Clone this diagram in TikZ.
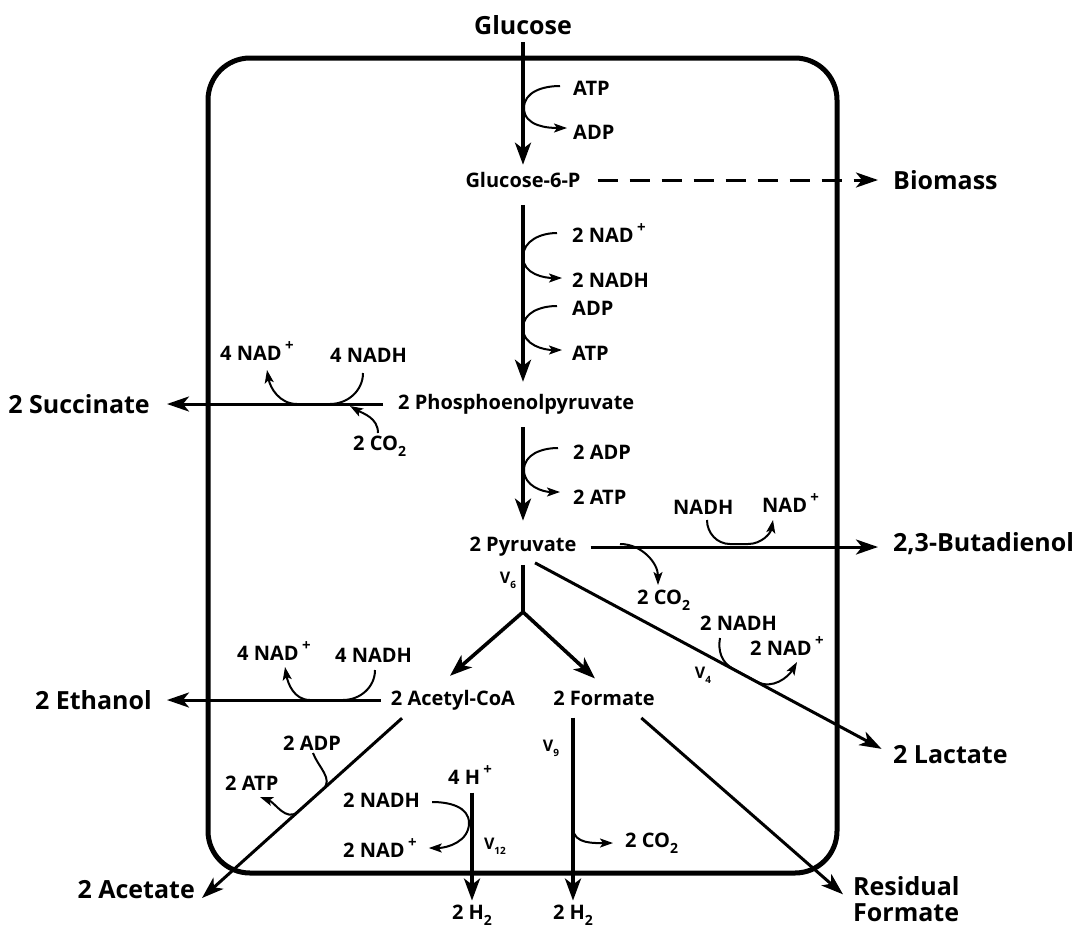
\documentclass[tikz,border=0pt]{standalone}
\usepackage{fontspec}
\setmainfont{Open Sans}
\usetikzlibrary{arrows.meta}
\newcommand\myplus{\,\raisebox{0.5em}{\fontsize{15}{15}\selectfont +}}
\newcommand\mysub[1]{\raisebox{-0.3em}{\fontsize{14}{14}\selectfont #1}}
\begin{document}
\begin{tikzpicture}[x=1pt,y=1pt,
  lbl/.style={font=\fontsize{20}{22}\selectfont\bfseries, inner sep=0pt},
  big/.style={font=\fontsize{25}{26}\selectfont\bfseries, inner sep=0pt},
  vl/.style={font=\fontsize{16}{17}\selectfont\bfseries, inner sep=0pt},
  mainarrow/.style={line width=3.6pt, -{Stealth[length=22pt,width=16pt,inset=6pt]}},
  flux/.style={line width=3pt, -{Stealth[length=22pt,width=15pt,inset=6pt]}},
  sidearrow/.style={line width=2pt, -{Stealth[length=13pt,width=9pt,inset=3pt]}},
  cell/.style={line width=5pt, rounded corners=42pt}]
\useasboundingbox (0,0) rectangle (1074,-930);
\draw[cell] (208,-58) rectangle (837,-873);

% main metabolites
\node[big] (glc) at (523,-25) {Glucose};
\node[lbl] (g6p) at (523,-180) {Glucose-6-P};
\node[big,anchor=west] (bio) at (893,-180) {Biomass};
\node[lbl,anchor=west] (pep) at (398,-404) {2 Phosphoenolpyruvate};
\node[big,anchor=east] (suc) at (150,-404) {2 Succinate};
\node[lbl] (pyr) at (523,-547) {2 Pyruvate};
\node[big,anchor=west] (but) at (893,-544) {2,3-Butadienol};
\node[big,anchor=west] (lac) at (893,-755) {2 Lactate};
\node[lbl] (aca) at (453,-700) {2 Acetyl-CoA};
\node[lbl] (form) at (604,-698) {2 Formate};
\node[big,anchor=east] (eth) at (152,-700) {2 Ethanol};
\node[big,anchor=east] (act) at (195,-890) {2 Acetate};
\node[big,anchor=north west,align=left] (res) at (853,-876) {Residual\\Formate};
\node[lbl,anchor=west] (hp) at (448,-775) {4 H\myplus};
\node[lbl] (h2a) at (472,-915) {2 H\mysub{2}};
\node[lbl] (h2b) at (573,-915) {2 H\mysub{2}};

% cofactors
\node[lbl,anchor=west] (atp1) at (573,-88) {ATP};
\node[lbl,anchor=west] (adp1) at (573,-132) {ADP};
\node[lbl,anchor=west] (nad1) at (572,-233) {2 NAD\myplus};
\node[lbl,anchor=west] (nadh1) at (572,-280) {2 NADH};
\node[lbl,anchor=west] (adp2) at (572,-308) {ADP};
\node[lbl,anchor=west] (atp2) at (572,-353) {ATP};
\node[lbl,anchor=west] (nad4) at (220,-351) {4 NAD\myplus};
\node[lbl,anchor=west] (nadh4) at (330,-355) {4 NADH};
\node[lbl,anchor=west] (co2a) at (353,-446) {2 CO\mysub{2}};
\node[lbl,anchor=west] (adp3) at (573,-452) {2 ADP};
\node[lbl,anchor=west] (atp3) at (573,-497) {2 ATP};
\node[lbl,anchor=west] (nadhb) at (673,-507) {NADH};
\node[lbl,anchor=west] (nadb) at (762,-503) {NAD\myplus};
\node[lbl,anchor=west] (co2b) at (637,-600) {2 CO\mysub{2}};
\node[lbl,anchor=west] (nadhl) at (700,-623) {2 NADH};
\node[lbl,anchor=west] (nadl) at (750,-646) {2 NAD\myplus};
\node[lbl,anchor=west] (nad5) at (237,-651) {4 NAD\myplus};
\node[lbl,anchor=west] (nadh5) at (335,-655) {4 NADH};
\node[lbl,anchor=west] (adp5) at (283,-743) {2 ADP};
\node[lbl,anchor=west] (atp5) at (225,-783) {2 ATP};
\node[lbl,anchor=west] (nadh6) at (343,-800) {2 NADH};
\node[lbl,anchor=west] (nad6) at (343,-848) {2 NAD\myplus};
\node[lbl,anchor=west] (co2c) at (625,-843) {2 CO\mysub{2}};

% flux labels
\node[vl] (v6) at (508,-580) {V\mysub{\fontsize{10}{10}\selectfont 6}};
\node[vl] (v4) at (703,-675) {V\mysub{\fontsize{10}{10}\selectfont 4}};
\node[vl] (v9) at (551,-748) {V\mysub{\fontsize{10}{10}\selectfont 9}};
\node[vl] (v12) at (495,-846) {V\mysub{\fontsize{10}{10}\selectfont 12}};

\coordinate (j) at (523,-612);

% main pathway
\draw[mainarrow, shorten <=7.5pt, shorten >=7.4pt] (glc.south) -- (g6p.north);
\draw[flux, dash pattern=on 20pt off 12pt, shorten <=17pt, shorten >=15pt] (g6p.east) -- (g6p.east -| bio.west);
\draw[mainarrow, shorten <=17pt, shorten >=12pt] (g6p.south) -- (g6p.south |- pep.north);
\draw[flux, shorten <=15pt, shorten >=17pt] (pep.west) -- (pep.west -| suc.east);
\draw[mainarrow, shorten <=13pt, shorten >=16.5pt] (pep.south -| g6p.south) -- (pyr.north);
\draw[flux, shorten <=14pt, shorten >=15pt] (pyr.east) -- (pyr.east -| but.west);
\draw[flux, shorten >=13pt] ([shift={(12,-6)}]pyr.south) -- (lac.west);
\draw[line width=3.6pt, shorten <=8pt] (pyr.south) -- (j);
\draw[mainarrow] (j) -- ([shift={(-3,14)}]aca.north);
\draw[mainarrow] (j) -- ([shift={(-9,12)}]form.north);
\draw[flux, shorten <=10pt, shorten >=15pt] (aca.west) -- (aca.west -| eth.east);
\draw[flux] ([shift={(-51,-8)}]aca.south) -- ([shift={(7,-8)}]act.east);
\draw[mainarrow, shorten <=8pt, shorten >=4pt] (h2a.north |- hp.south) -- (h2a.north);
\draw[mainarrow, shorten <=12pt, shorten >=4pt] (form.south -| h2b.north) -- (h2b.north);
\draw[flux] ([shift={(-13.5,-12.4)}]form.south east) -- ([shift={(-10,4.5)}]res.west);

% side reactions
\draw[sidearrow] ([shift={(-13,2)}]atp1.west) to[out=180,in=90] (524,-108) to[out=-90,in=180] ([shift={(-6,4)}]adp1.west);
\draw[sidearrow] ([shift={(-15,0)}]nad1.west) to[out=180,in=90] (523,-257) to[out=-90,in=180] ([shift={(-10,2)}]nadh1.west);
\draw[sidearrow] ([shift={(-15,2)}]adp2.west) to[out=180,in=90] (523,-328) to[out=-90,in=180] ([shift={(-10,3)}]atp2.west);
\draw[sidearrow] ([shift={(-15,4)}]adp3.west) to[out=180,in=90] (524,-470) to[out=-90,in=180] ([shift={(-13,5)}]atp3.west);
\draw[sidearrow] ([shift={(33,-18)}]nadh4.west) to[out=-90,in=0] (330,-404) -- (297,-404) to[out=180,in=-80] ([shift={(47,-19)}]nad4.west);
\draw[sidearrow] ([shift={(25,13)}]co2a.west) to[out=90,in=-30] (350,-406);
\draw[sidearrow] ([shift={(34,-13)}]nadhb.west) to[out=-90,in=180] (730,-544) -- (748,-544) to[out=0,in=-100] ([shift={(11,-17)}]nadb.west);
\draw[sidearrow] (620,-544) to[out=0,in=90] ([shift={(21,15)}]co2b.west);
\draw[sidearrow] ([shift={(20,-15)}]nadhl.west) to[out=-100,in=151.7] (733,-668.7) -- (757,-681.7) to[out=-28.3,in=-120] ([shift={(47,-16)}]nadl.west);
\draw[sidearrow] ([shift={(40,-15)}]nadh5.west) to[out=-90,in=0] (343,-700) -- (310,-700) to[out=180,in=-80] ([shift={(48,-16)}]nad5.west);
\draw[sidearrow] ([shift={(30,-10)}]adp5.west) to[out=-70,in=42] (323,-789.1) -- (298,-811.6) to[out=222,in=-20] ([shift={(35,-14)}]atp5.west);
\draw[sidearrow] ([shift={(12,-2)}]nadh6.east) to[out=0,in=90] (469,-823) to[out=-90,in=0] ([shift={(12,0)}]nad6.east);
\draw[sidearrow] (573,-828) to[out=-90,in=180] ([shift={(-12,0)}]co2c.west);
\end{tikzpicture}
\end{document}
